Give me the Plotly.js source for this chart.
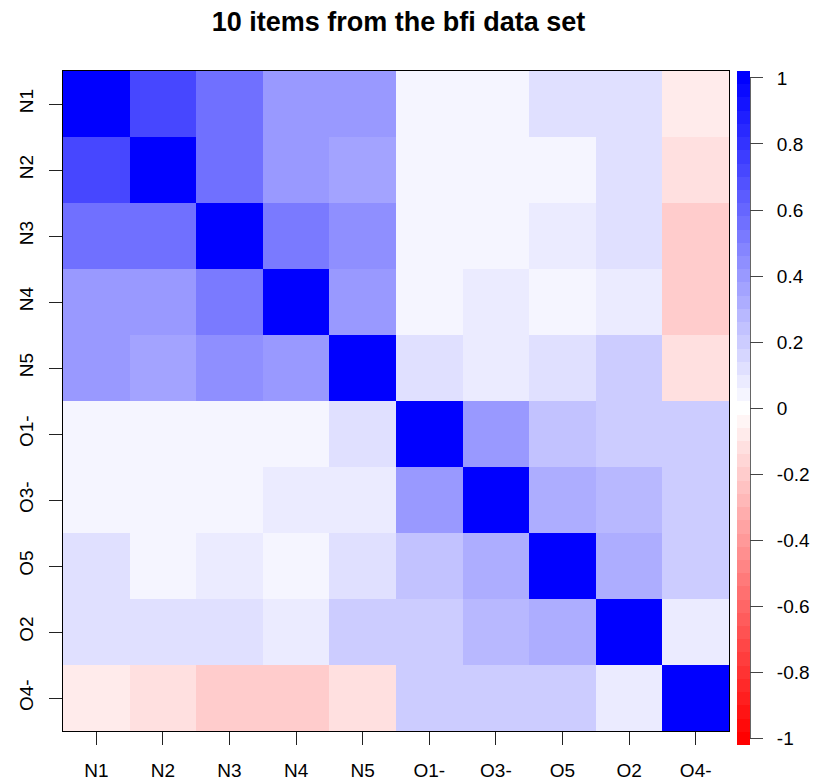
<!DOCTYPE html>
<html>
<head>
<meta charset="utf-8">
<script src="https://cdn.plot.ly/plotly-3.0.1.min.js"></script>
<style>html,body{margin:0;padding:0;background:#fff;}#chart{width:815px;height:782px;}</style>
</head>
<body>
<div id="chart"></div>
<script>
// Item labels (rows top to bottom, columns left to right)
const items = ["N1", "N2", "N3", "N4", "N5", "O1-", "O3-", "O5", "O2", "O4-"];

// Correlations, one row per item
const rowN1  = [1.00, 0.71, 0.56, 0.40, 0.39, 0.04, 0.04, 0.12, 0.12, -0.08];
const rowN2  = [0.71, 1.00, 0.55, 0.39, 0.35, 0.04, 0.04, 0.04, 0.12, -0.12];
const rowN3  = [0.56, 0.55, 1.00, 0.52, 0.43, 0.04, 0.04, 0.08, 0.12, -0.20];
const rowN4  = [0.40, 0.39, 0.52, 1.00, 0.40, 0.04, 0.08, 0.04, 0.08, -0.20];
const rowN5  = [0.39, 0.35, 0.43, 0.40, 1.00, 0.12, 0.08, 0.12, 0.20, -0.12];
const rowO1  = [0.04, 0.04, 0.04, 0.04, 0.12, 1.00, 0.40, 0.23, 0.20, 0.20];
const rowO3  = [0.04, 0.04, 0.04, 0.08, 0.08, 0.40, 1.00, 0.31, 0.27, 0.20];
const rowO5  = [0.12, 0.04, 0.08, 0.04, 0.12, 0.23, 0.31, 1.00, 0.31, 0.20];
const rowO2  = [0.12, 0.12, 0.12, 0.08, 0.20, 0.20, 0.27, 0.31, 1.00, 0.08];
const rowO4  = [-0.08, -0.12, -0.20, -0.20, -0.12, 0.20, 0.20, 0.20, 0.08, 1.00];

const colorbarTicks = [1, 0.8, 0.6, 0.4, 0.2, 0, -0.2, -0.4, -0.6, -0.8, -1];
const colorbarTickText = ["1", "0.8", "0.6", "0.4", "0.2", "0", "-0.2", "-0.4", "-0.6", "-0.8", "-1"];

const z = [rowN1, rowN2, rowN3, rowN4, rowN5, rowO1, rowO3, rowO5, rowO2, rowO4];

// 51-step red-white-blue ramp; bins centred on -1, -0.96, ..., 1
const nCol = 51;
const halfBin = 1 / (nCol - 1);
function rampColor(i) {
  const half = (nCol - 1) / 2;
  if (i <= half) {
    const g = Math.round(255 * i / half);
    return `rgb(255,${g},${g})`;
  } else {
    const r = Math.round(255 * (nCol - 1 - i) / half);
    return `rgb(${r},${r},255)`;
  }
}
const colorscale = [];
for (let i = 0; i < nCol; i++) {
  const c = rampColor(i);
  colorscale.push([i / nCol, c]);
  colorscale.push([(i + 1) / nCol, c]);
}

const font = "Liberation Sans, Arial, Helvetica, sans-serif";

// geometry of the plot area and colour bar (pixels)
const W = 815, H = 782;
const M = {l: 63, r: 86, t: 70.5, b: 51};
const plotW = W - M.l - M.r, plotH = H - M.t - M.b;
const cbX = 1.0125, cbThick = 13, cbLen = 674, cbY = 0.489;
const zMin = -1 - halfBin, zMax = 1 + halfBin;

// axis line along the right edge of the colour bar, from tick -1 to tick 1
const cbRightX = cbX + cbThick / plotW;
const cbBottomPx = cbY * plotH - cbLen / 2;
function cbPaperY(v) { return (cbBottomPx + (v - zMin) / (zMax - zMin) * cbLen) / plotH; }

const labelPad = "\u00A0\u00A0";

const trace = {
  type: "heatmap",
  x: items,
  y: items,
  z: z,
  zmin: zMin,
  zmax: zMax,
  colorscale: colorscale,
  xgap: 0, ygap: 0,
  colorbar: {
    thickness: cbThick,
    x: cbX, xanchor: "left", xpad: 0,
    y: cbY, yanchor: "middle", ypad: 0,
    lenmode: "pixels", len: cbLen,
    outlinewidth: 0,
    tickmode: "array",
    tickvals: colorbarTicks,
    ticktext: colorbarTickText.map(t => labelPad + t),
    ticks: "outside",
    ticklen: 13,
    tickcolor: "#444",
    tickfont: {family: font, size: 19, color: "#000"}
  }
};

const layout = {
  width: W, height: H,
  margin: {l: M.l, r: M.r, t: M.t, b: M.b, pad: 0, autoexpand: false},
  paper_bgcolor: "#fff",
  plot_bgcolor: "#fff",
  title: {
    text: "<b>10 items from the bfi data set</b>",
    font: {family: font, size: 27, color: "#000"},
    x: 0.489, xanchor: "center",
    y: 0.973, yanchor: "middle"
  },
  xaxis: {
    type: "category",
    automargin: false,
    showline: true, mirror: true, linecolor: "#000", linewidth: 1,
    ticks: "outside", ticklen: 12.5, tickcolor: "#222",
    ticklabelstandoff: 10,
    tickfont: {family: font, size: 19, color: "#000"},
    showgrid: false, zeroline: false
  },
  yaxis: {
    type: "category",
    automargin: false,
    autorange: "reversed",
    showline: true, mirror: true, linecolor: "#000", linewidth: 1,
    ticks: "outside", ticklen: 13, tickcolor: "#222",
    ticklabelstandoff: 8,
    tickangle: -90,
    tickfont: {family: font, size: 19, color: "#000"},
    showgrid: false, zeroline: false
  },
  shapes: [{
    type: "line", xref: "paper", yref: "paper",
    x0: cbRightX, x1: cbRightX,
    y0: cbPaperY(-1), y1: cbPaperY(1),
    line: {color: "#444", width: 1}
  }],
  showlegend: false
};

Plotly.newPlot("chart", [trace], layout, {displayModeBar: false, staticPlot: true});
</script>
</body>
</html>
